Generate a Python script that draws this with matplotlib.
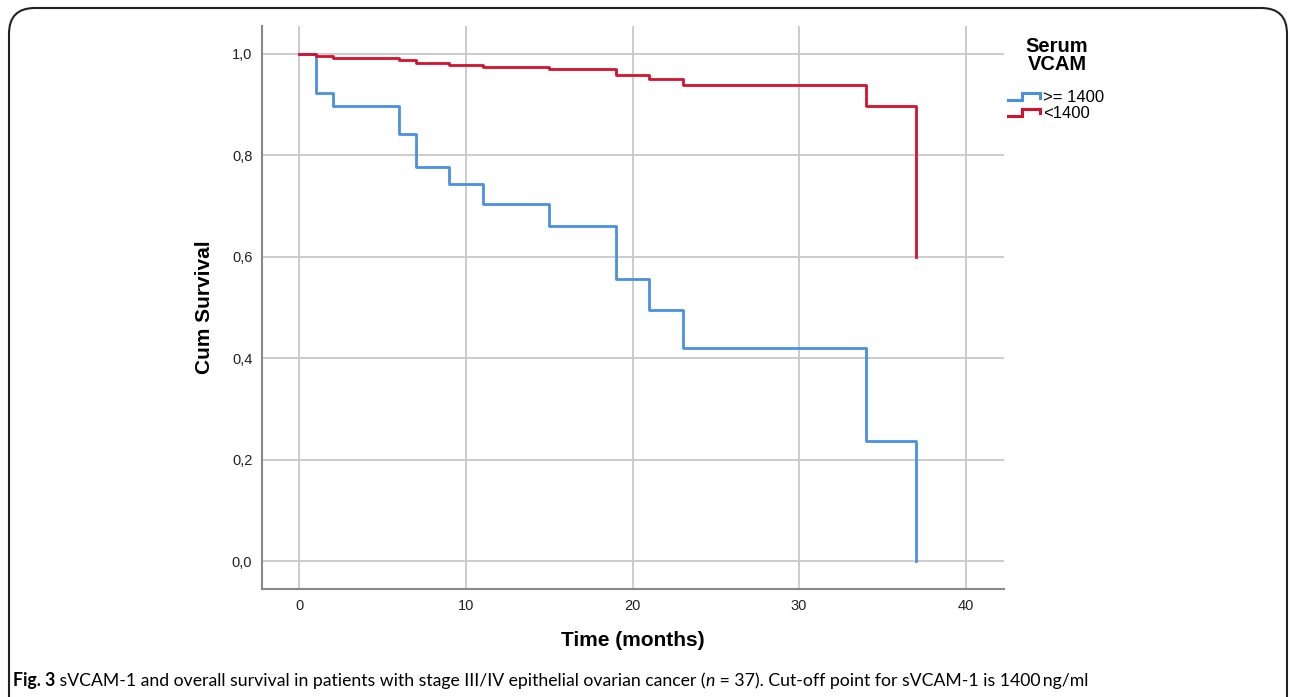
import matplotlib.pyplot as plt
from matplotlib.legend_handler import HandlerBase
from matplotlib.lines import Line2D
from matplotlib.patches import FancyBboxPatch

# Kaplan-Meier steps (czas w miesiącach, przeżycie skumulowane)
high_times = [0, 1, 2, 6, 7, 9, 11, 15, 19, 21, 23, 34, 37]
high_surv = [1.0, 0.922, 0.898, 0.842, 0.777, 0.743, 0.705, 0.661, 0.557, 0.495, 0.421, 0.237, 0.0]

low_times = [0, 1, 2, 6, 7, 9, 11, 15, 19, 21, 23, 34, 37]
low_surv = [1.0, 0.996, 0.992, 0.988, 0.983, 0.979, 0.975, 0.970, 0.959, 0.950, 0.939, 0.898, 0.600]

labels = [">= 1400", "<1400"]
legend_title = ["Serum", "VCAM"]
y_ticks = [0.0, 0.2, 0.4, 0.6, 0.8, 1.0]
x_ticks = [0, 10, 20, 30, 40]

blue = "#4a90e2"
red = "#d4122e"
W, H = 1290, 697


class StepHandler(HandlerBase):
    # mały schodek w legendzie, jak w SPSS
    def create_artists(self, legend, orig_handle, xdescent, ydescent,
                       width, height, fontsize, trans):
        x0, x1 = -xdescent, -xdescent + width
        y0, y1 = -ydescent + height * 0.2, -ydescent + height * 0.8
        xm = x0 + width * 0.45
        xs = [x0, xm, xm, x1, x1]
        ys = [y0, y0, y1, y1, y0 + (y1 - y0) * 0.3]
        line = Line2D(xs, ys, color=orig_handle.get_color(), lw=2.2,
                      solid_joinstyle="miter", transform=trans)
        return [line]


fig = plt.figure(figsize=(W / 100, H / 100), dpi=100)

# ramka wokół całego rysunku
frame = FancyBboxPatch((9 / W, -0.05), 1278 / W, 1 - 8 / H + 0.05,
                       boxstyle="round,pad=0,rounding_size=0.02",
                       transform=fig.transFigure, fill=False,
                       edgecolor="#222222", lw=1.5, clip_on=False,
                       mutation_aspect=W / H)
fig.patches.append(frame)

ax = fig.add_axes([262 / W, 1 - 589 / H, (1004 - 262) / W, (589 - 26) / H])

l1, = ax.step(high_times, high_surv, where="post", color=blue, lw=2,
              label=labels[0], zorder=3)
l2, = ax.step(low_times, low_surv, where="post", color=red, lw=2,
              label=labels[1], zorder=3)

ax.set_xlim(-2.25, 42.3)
ax.set_ylim(-0.055, 1.055)
ax.set_xticks(x_ticks)
ax.set_yticks(y_ticks)
ax.set_yticklabels([f"{v:.1f}".replace(".", ",") for v in y_ticks])
ax.tick_params(length=0, labelsize=10.5, labelcolor="#222222", pad=7,
               labelfontfamily="Liberation Sans")

ax.grid(True, color="#c8c8c8", lw=1.3)
ax.set_axisbelow(True)
for side in ["top", "right"]:
    ax.spines[side].set_visible(False)
for side in ["left", "bottom"]:
    ax.spines[side].set_color("#888888")
    ax.spines[side].set_linewidth(1.5)

ax.set_xlabel("Time (months)", fontsize=15, fontweight="bold",
              family="Liberation Sans", va="center")
ax.set_ylabel("Cum Survival", fontsize=15, fontweight="bold",
              family="Liberation Sans", va="center")
ax.xaxis.set_label_coords(0.5, -(640 - 589) / 563)
ax.yaxis.set_label_coords((205 - 262) / 742, 0.5)

# legenda: tytuł osobno, pozycje wpisów w pikselach
fig.text(1057 / W, 1 - 47 / H, legend_title[0], fontsize=14.5,
         fontweight="bold", family="Liberation Sans", ha="center", va="center")
fig.text(1057 / W, 1 - 65 / H, legend_title[1], fontsize=14.5,
         fontweight="bold", family="Liberation Sans", ha="center", va="center")
fig.legend(handles=[l1, l2], loc="upper left",
           bbox_to_anchor=(1008 / W, 1 - 90 / H), frameon=False,
           handler_map={Line2D: StepHandler()},
           handlelength=1.9, handletextpad=0.2, labelspacing=0.05,
           borderpad=0, borderaxespad=0,
           prop={"family": "Liberation Sans", "size": 12})

# podpis rysunku
t1 = fig.text(13 / W, 1 - 686 / H, "Fig. 3", fontsize=12.7,
              fontweight="bold", family="Lato", va="baseline")
parts = [
    (" sVCAM-1 and overall survival in patients with stage III/IV epithelial ovarian cancer (", "normal"),
    ("n", "italic"),
    (" = 37). Cut-off point for sVCAM-1 is 1400\u2009ng/ml", "normal"),
]
prev = t1
for txt, style in parts:
    prev = ax.annotate(txt, xy=(1, 0), xycoords=prev, va="bottom", ha="left",
                       fontsize=12.7, family=["Lato", "DejaVu Sans"],
                       style=style, annotation_clip=False)

fig.savefig("out.png", dpi=100)
